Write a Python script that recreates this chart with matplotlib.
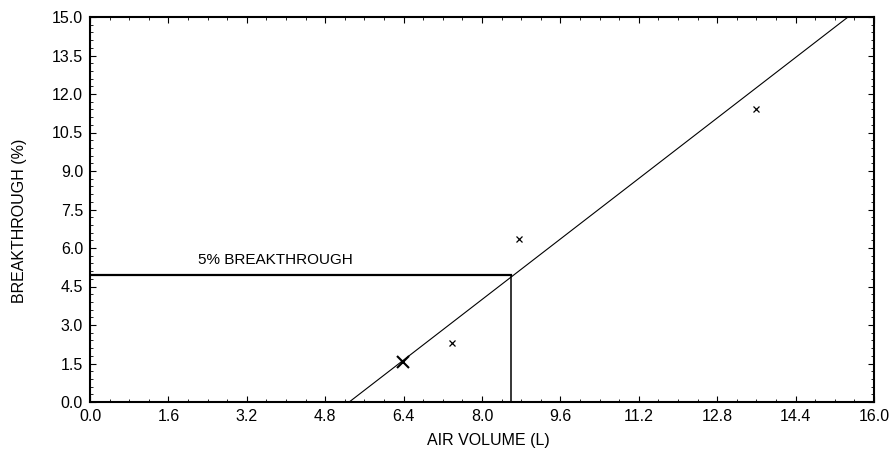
import matplotlib
matplotlib.use("Agg")
import matplotlib.pyplot as plt
import numpy as np

plt.rcParams['font.family'] = ['Liberation Sans', 'DejaVu Sans']

# Data
meas_x = [6.38, 7.38, 8.76, 13.59]
meas_y = [1.57, 2.31, 6.34, 11.41]
fit_x = [5.29, 15.47]
fit_y = [0.0, 15.0]
bt_x = 8.6
bt_y = 4.95
x_ticks = [0.0, 1.6, 3.2, 4.8, 6.4, 8.0, 9.6, 11.2, 12.8, 14.4, 16.0]
y_ticks = [0.0, 1.5, 3.0, 4.5, 6.0, 7.5, 9.0, 10.5, 12.0, 13.5, 15.0]

W, H = 892, 449
fig = plt.figure(figsize=(W / 100, H / 100), dpi=100)
ax = fig.add_axes([90 / W, 1 - 402 / H, 784 / W, 385 / H])

ax.plot(fit_x, fit_y, color='black', lw=0.8)
ax.plot([0, bt_x], [bt_y, bt_y], color='black', lw=1.6)
ax.plot([bt_x, bt_x], [0, bt_y], color='black', lw=1.1)
ax.plot(meas_x[1:], meas_y[1:], 'x', color='black', ms=5, mew=0.9)
ax.plot(meas_x[:1], meas_y[:1], 'x', color='black', ms=8, mew=1.5)
ax.text(3.78, 5.25, '5% BREAKTHROUGH', fontsize=11, ha='center', va='bottom')

ax.set_xlim(0, 16)
ax.set_ylim(0, 15)
ax.set_xticks(x_ticks)
ax.set_xticklabels([f'{v:.1f}' for v in x_ticks])
ax.set_yticks(y_ticks)
ax.set_yticklabels([f'{v:.1f}' for v in y_ticks])
ax.xaxis.set_minor_locator(matplotlib.ticker.MultipleLocator(0.4))
ax.yaxis.set_minor_locator(matplotlib.ticker.MultipleLocator(0.3))
ax.tick_params(which='major', direction='in', length=4, width=0.8, labelsize=11.5, pad=5,
               top=True, right=True)
ax.tick_params(which='minor', direction='in', length=2, width=0.6, top=True, right=True)
for s in ax.spines.values():
    s.set_linewidth(1.5)

fig.text(488 / W, 1 - 445 / H, 'AIR VOLUME (L)', fontsize=11.5, ha='center', va='baseline')
fig.text(20 / W, 1 - 221 / H, 'BREAKTHROUGH (%)', fontsize=11.5, ha='center', va='center',
         rotation=90)

fig.savefig('out.png', dpi=100)
